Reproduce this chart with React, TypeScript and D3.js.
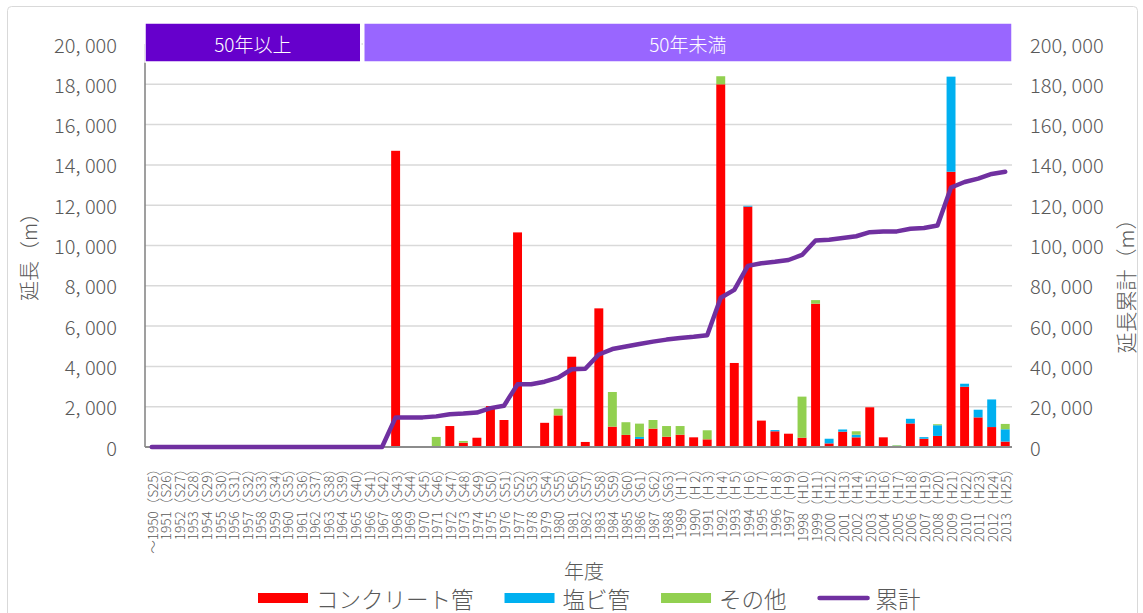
import { useEffect, useRef } from "react";
import * as d3 from "d3";

// 年度ラベル
const labels = [
  "～1950（S25）", "1951（S26）", "1952（S27）", "1953（S28）", "1954（S29）", "1955（S30）",
  "1956（S31）", "1957（S32）", "1958（S33）", "1959（S34）", "1960（S35）", "1961（S36）",
  "1962（S37）", "1963（S38）", "1964（S39）", "1965（S40）", "1966（S41）", "1967（S42）",
  "1968（S43）", "1969（S44）", "1970（S45）", "1971（S46）", "1972（S47）", "1973（S48）",
  "1974（S49）", "1975（S50）", "1976（S51）", "1977（S52）", "1978（S53）", "1979（S54）",
  "1980（S55）", "1981（S56）", "1982（S57）", "1983（S58）", "1984（S59）", "1985（S60）",
  "1986（S61）", "1987（S62）", "1988（S63）", "1989（H 1）", "1990（H 2）", "1991（H 3）",
  "1992（H 4）", "1993（H 5）", "1994（H 6）", "1995（H 7）", "1996（H 8）", "1997（H 9）",
  "1998（H10）", "1999（H11）", "2000（H12）", "2001（H13）", "2002（H14）", "2003（H15）",
  "2004（H16）", "2005（H17）", "2006（H18）", "2007（H19）", "2008（H20）", "2009（H21）",
  "2010（H22）", "2011（H23）", "2012（H24）", "2013（H25）",
];

// コンクリート管 (m)
const concrete = [
  0, 0, 0, 0, 0, 0, 0, 0, 0, 0, 0, 0, 0, 0, 0, 0, 0, 0,
  14700, 0, 0, 0, 1040, 210, 460, 2030, 1340, 10650, 0, 1200,
  1570, 4480, 250, 6880, 1010, 600, 400, 910, 510, 610, 480, 380,
  18000, 4170, 11930, 1310, 780, 660, 460, 7110, 180, 760, 480, 1970,
  480, 0, 1170, 410, 550, 13660, 2990, 1470, 990, 270,
];

// 塩ビ管 (m)
const pvc = [
  0, 0, 0, 0, 0, 0, 0, 0, 0, 0, 0, 0, 0, 0, 0, 0, 0, 0,
  0, 0, 0, 0, 0, 0, 0, 0, 0, 0, 0, 0,
  0, 0, 0, 0, 0, 0, 100, 0, 0, 0, 0, 0,
  0, 0, 40, 0, 60, 0, 0, 0, 230, 110, 130, 0,
  0, 60, 230, 80, 530, 4720, 150, 380, 1370, 610,
];

// その他 (m)
const other = [
  0, 0, 0, 0, 0, 0, 0, 0, 0, 0, 0, 0, 0, 0, 0, 0, 0, 0,
  0, 0, 0, 500, 0, 90, 0, 0, 0, 0, 0, 0,
  330, 0, 0, 0, 1720, 630, 660, 430, 530, 430, 0, 450,
  400, 0, 0, 0, 0, 0, 2040, 180, 0, 0, 170, 0,
  0, 30, 0, 0, 50, 0, 0, 0, 0, 265,
];

// 累計 (m)
const cumulative = [
  0, 0, 0, 0, 0, 0, 0, 0, 0, 0, 0, 0, 0, 0, 0, 0, 0, 0,
  14700, 14700, 14700, 15200, 16300, 16600, 17100, 19300, 20500, 31100, 31100, 32400,
  34400, 38600, 38800, 45900, 48600, 49900, 51100, 52300, 53300, 54100, 54700, 55500,
  74100, 78000, 89900, 91200, 91900, 92800, 95300, 102500, 102900, 103700, 104600, 106600,
  106900, 107000, 108300, 108700, 109900, 128800, 131500, 133200, 135500, 136600,
];

const leftTicks = [0, 2000, 4000, 6000, 8000, 10000, 12000, 14000, 16000, 18000, 20000];
const rightTicks = [0, 20000, 40000, 60000, 80000, 100000, 120000, 140000, 160000, 180000, 200000];

const seriesKeys = ["concrete", "pvc", "other"];
const seriesNames = ["コンクリート管", "塩ビ管", "その他"];
const seriesColors = ["#FF0000", "#00B0F0", "#92D050"];

const periods = ["50年以上", "50年未満"];
const oldCount = 16; // 1950〜1965

function App() {
  const svgRef = useRef<SVGSVGElement>(null);

  useEffect(() => {
    const width = 1143;
    const height = 613;
    const left = 145;
    const right = 1012;
    const top = 44;
    const bottom = 447;
    const font = "'Noto Sans CJK JP', 'Noto Sans', sans-serif";
    const weight = 300;
    const textColor = "#595959";

    const svg = d3.select(svgRef.current);
    svg.selectAll("*").remove();
    svg.attr("width", width).attr("height", height);

    svg.append("rect")
      .attr("x", 7.5).attr("y", 6.5)
      .attr("width", 1130).attr("height", 640)
      .attr("rx", 4)
      .attr("fill", "#fff")
      .attr("stroke", "#d9d9d9");

    const x = d3.scaleBand<string>()
      .domain(labels)
      .range([left, right])
      .paddingInner(0.34)
      .paddingOuter(0.17);

    const y = d3.scaleLinear().domain([0, 20000]).range([bottom, top]);
    const y2 = d3.scaleLinear().domain([0, 200000]).range([bottom, top]);

    const fmt = (d: number) => d3.format(",")(d).replace(",", ", ");

    // grid
    svg.append("g")
      .selectAll("line")
      .data(leftTicks.filter(d => d > 0))
      .enter()
      .append("line")
      .attr("x1", left).attr("x2", right)
      .attr("y1", d => y(d)).attr("y2", d => y(d))
      .attr("stroke", "#d9d9d9")
      .attr("stroke-width", 1.5);

    // left ticks
    svg.append("g")
      .selectAll("text")
      .data(leftTicks)
      .enter()
      .append("text")
      .attr("x", 117)
      .attr("y", d => y(d))
      .attr("text-anchor", "end")
      .attr("dominant-baseline", "central")
      .attr("font-family", font)
      .attr("font-weight", weight)
      .attr("font-size", 20)
      .attr("fill", textColor)
      .text(fmt);

    // right ticks
    svg.append("g")
      .selectAll("text")
      .data(rightTicks)
      .enter()
      .append("text")
      .attr("x", 1030)
      .attr("y", d => y2(d))
      .attr("text-anchor", "start")
      .attr("dominant-baseline", "central")
      .attr("font-family", font)
      .attr("font-weight", weight)
      .attr("font-size", 20)
      .attr("fill", textColor)
      .text(fmt);

    // stacked bars
    const rows = labels.map((label, i) => ({
      label,
      concrete: concrete[i],
      pvc: pvc[i],
      other: other[i],
    }));
    const stacked = d3.stack<any>().keys(seriesKeys)(rows);

    svg.append("g")
      .selectAll("g")
      .data(stacked)
      .enter()
      .append("g")
      .attr("fill", (_, i) => seriesColors[i])
      .selectAll("rect")
      .data(d => d.filter(p => p[1] - p[0] > 0))
      .enter()
      .append("rect")
      .attr("x", d => x(d.data.label) as number)
      .attr("width", x.bandwidth())
      .attr("y", d => y(d[1]))
      .attr("height", d => y(d[0]) - y(d[1]));

    // axis lines
    svg.append("line")
      .attr("x1", left).attr("x2", left)
      .attr("y1", top).attr("y2", bottom)
      .attr("stroke", "#7f7f7f")
      .attr("stroke-width", 1.5);

    svg.append("line")
      .attr("x1", left).attr("x2", right)
      .attr("y1", bottom).attr("y2", bottom)
      .attr("stroke", "#8c8c8c")
      .attr("stroke-width", 2.2);

    // x labels
    svg.append("g")
      .selectAll("text")
      .data(labels)
      .enter()
      .append("text")
      .attr("transform", d => `translate(${(x(d) as number) + x.bandwidth() / 2},462) rotate(-90)`)
      .attr("text-anchor", "end")
      .attr("dominant-baseline", "central")
      .attr("font-family", font)
      .attr("font-weight", weight)
      .attr("font-size", 13.5)
      .attr("fill", textColor)
      .text(d => d);

    // cumulative line
    const line = d3.line<number>()
      .x((_, i) => (x(labels[i]) as number) + x.bandwidth() / 2)
      .y(d => y2(d));

    svg.append("path")
      .datum(cumulative)
      .attr("d", line)
      .attr("fill", "none")
      .attr("stroke", "#7030A0")
      .attr("stroke-width", 4.5)
      .attr("stroke-linejoin", "round")
      .attr("stroke-linecap", "round");

    // period bands
    const split = (x(labels[oldCount]) as number) - (x.step() * x.paddingInner()) / 2;
    const bands = [
      { name: periods[0], x0: left, x1: split - 1, fill: "#6600CC" },
      { name: periods[1], x0: split + 2, x1: right, fill: "#9966FF" },
    ];
    const band = svg.append("g")
      .selectAll("g")
      .data(bands)
      .enter()
      .append("g");

    band.append("rect")
      .attr("x", d => d.x0)
      .attr("y", 23)
      .attr("width", d => d.x1 - d.x0)
      .attr("height", 39)
      .attr("fill", d => d.fill)
      .attr("stroke", "#ffffff")
      .attr("stroke-width", 1.5);

    band.append("text")
      .attr("x", d => (d.x0 + d.x1) / 2)
      .attr("y", 43)
      .attr("text-anchor", "middle")
      .attr("dominant-baseline", "central")
      .attr("font-family", font)
      .attr("font-weight", weight)
      .attr("font-size", 19)
      .attr("fill", "#ffffff")
      .text(d => d.name);

    // axis titles
    svg.append("text")
      .attr("transform", "translate(28,252) rotate(-90)")
      .attr("text-anchor", "middle")
      .attr("dominant-baseline", "central")
      .attr("font-family", font)
      .attr("font-weight", weight)
      .attr("font-size", 20)
      .attr("fill", textColor)
      .text("延長（m）");

    svg.append("text")
      .attr("transform", "translate(1125,281) rotate(-90)")
      .attr("text-anchor", "middle")
      .attr("dominant-baseline", "central")
      .attr("font-family", font)
      .attr("font-weight", weight)
      .attr("font-size", 21)
      .attr("fill", textColor)
      .text("延長累計（m）");

    svg.append("text")
      .attr("x", 584)
      .attr("y", 570)
      .attr("text-anchor", "middle")
      .attr("dominant-baseline", "central")
      .attr("font-family", font)
      .attr("font-weight", weight)
      .attr("font-size", 20)
      .attr("fill", textColor)
      .text("年度");

    // legend
    const legendItems = [
      ...seriesNames.map((name, i) => ({ name, color: seriesColors[i], kind: "rect" })),
      { name: "累計", color: "#7030A0", kind: "line" },
    ];
    let lx = 258;
    legendItems.forEach(item => {
      const g = svg.append("g");
      if (item.kind === "rect") {
        g.append("rect")
          .attr("x", lx).attr("y", 593)
          .attr("width", 50).attr("height", 10)
          .attr("fill", item.color);
      } else {
        g.append("line")
          .attr("x1", lx + 2).attr("x2", lx + 50)
          .attr("y1", 598).attr("y2", 598)
          .attr("stroke", item.color)
          .attr("stroke-width", 4.5)
          .attr("stroke-linecap", "round");
      }
      const t = g.append("text")
        .attr("x", lx + 58)
        .attr("y", 598)
        .attr("dominant-baseline", "central")
        .attr("font-family", font)
        .attr("font-weight", weight)
        .attr("font-size", 22.5)
        .attr("fill", textColor)
        .text(item.name);
      const w = (t.node() as SVGTextElement).getComputedTextLength();
      lx += 58 + w + 31;
    });
  }, []);

  return (
    <svg
      ref={svgRef}
      style={{ position: "absolute", left: 0, top: 0, display: "block" }}
    />
  );
}

export default App;
